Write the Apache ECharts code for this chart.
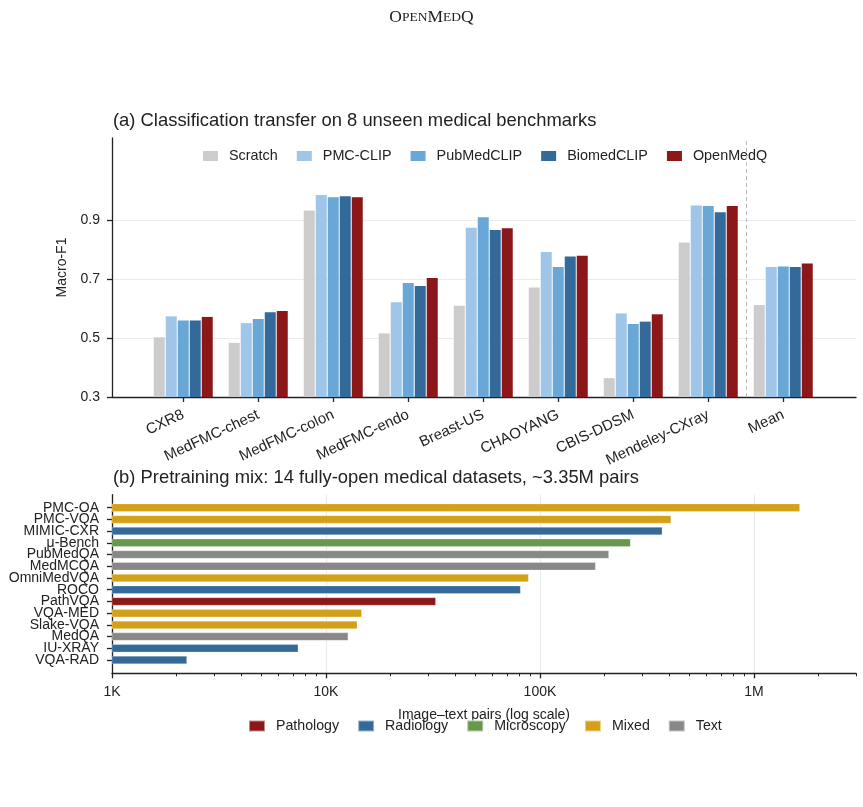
<!DOCTYPE html>
<html>
<head>
<meta charset="utf-8">
<title>OpenMedQ</title>
<script src="https://cdn.jsdelivr.net/npm/echarts@6/dist/echarts.min.js"></script>
<style>
  html, body { margin: 0; padding: 0; background: #fff; }
  #chart { width: 863px; height: 807px; }
</style>
</head>
<body>
<div id="chart"></div>
<script>
// (a) classification transfer, macro-F1
const benchmarks = ['CXR8', 'MedFMC-chest', 'MedFMC-colon', 'MedFMC-endo', 'Breast-US', 'CHAOYANG', 'CBIS-DDSM', 'Mendeley-CXray', 'Mean'];
const models = ['Scratch', 'PMC-CLIP', 'PubMedCLIP', 'BiomedCLIP', 'OpenMedQ'];
const scratch = [0.503, 0.484, 0.934, 0.516, 0.610, 0.672, 0.364, 0.825, 0.613];
const pmcClip = [0.574, 0.551, 0.986, 0.622, 0.875, 0.793, 0.584, 0.951, 0.742];
const pubmedClip = [0.560, 0.565, 0.979, 0.687, 0.911, 0.742, 0.548, 0.949, 0.743];
const biomedClip = [0.560, 0.588, 0.982, 0.677, 0.867, 0.777, 0.556, 0.928, 0.742];
const openMedQ = [0.572, 0.592, 0.979, 0.704, 0.873, 0.780, 0.581, 0.949, 0.754];
const yTicks = [0.3, 0.5, 0.7, 0.9];

// (b) pretraining mix
const datasets = ['PMC-OA', 'PMC-VQA', 'MIMIC-CXR', 'μ-Bench', 'PubMedQA', 'MedMCQA', 'OmniMedVQA', 'ROCO', 'PathVQA', 'VQA-MED', 'Slake-VQA', 'MedQA', 'IU-XRAY', 'VQA-RAD'];
const pairs = [1640000, 410000, 373000, 265000, 210000, 182000, 88500, 81200, 32600, 14700, 14000, 12700, 7420, 2240];
const datasetDomain = ['Mixed', 'Mixed', 'Radiology', 'Microscopy', 'Text', 'Text', 'Mixed', 'Radiology', 'Pathology', 'Mixed', 'Mixed', 'Text', 'Radiology', 'Radiology'];
const domains = ['Pathology', 'Radiology', 'Microscopy', 'Mixed', 'Text'];

const modelColors = ['#cccccc', '#9fc5e8', '#69a8d6', '#336a9a', '#8b1719'];
const domainColors = { Pathology: '#8b1719', Radiology: '#336a9a', Microscopy: '#67984c', Mixed: '#d4a017', Text: '#888888' };

const FONT = 'Liberation Sans';
const INK = '#222';
const X_MIN = 1000;
const X_MAX = 3000000;

const chart = echarts.init(document.getElementById('chart'), null, { renderer: 'canvas' });

// the middle series sits on the category centre, so the separator is hung on it
const modelSeries = [scratch, pmcClip, pubmedClip, biomedClip, openMedQ].map((vals, k) => ({
  name: models[k],
  type: 'bar',
  xAxisIndex: 0,
  yAxisIndex: 0,
  barWidth: 11,
  barGap: '9.1%',
  itemStyle: { color: modelColors[k] },
  data: vals.map((v, i) => [i, v]),
  markLine: k === 2 ? {
    silent: true,
    symbol: 'none',
    label: { show: false },
    lineStyle: { color: '#bbbbbb', type: [4, 3], width: 1 },
    data: [{ xAxis: benchmarks.length - 1.5 }]
  } : undefined
}));

const domainSeries = domains.map(d => ({
  name: d,
  type: 'bar',
  xAxisIndex: 1,
  yAxisIndex: 1,
  barWidth: 8,
  barGap: '-100%',
  itemStyle: { color: domainColors[d], borderColor: 'rgba(255,255,255,0.5)', borderWidth: 0.5 },
  data: pairs.map((v, i) => (datasetDomain[i] === d ? v : '-'))
}));

// minor ticks of the log axis, as log10 positions
const minorTicks = [];
for (let e = 3; e <= 6; e++) {
  for (let m = 2; m <= 9; m++) {
    const v = m * Math.pow(10, e);
    if (v <= X_MAX) minorTicks.push(Math.log10(v));
  }
}

const fmtPairs = v => (v >= 1e6 ? v / 1e6 + 'M' : v / 1e3 + 'K');

const option = {
  backgroundColor: '#fff',
  animation: false,
  textStyle: { fontFamily: FONT, color: INK },
  title: [
    {
      text: '{b|O}{s|PEN}{b|M}{s|ED}{b|Q}',
      left: 'center',
      top: 8,
      padding: 0,
      textStyle: {
        fontWeight: 'normal',
        rich: {
          b: { fontFamily: 'Liberation Serif', fontSize: 17.5, fontWeight: 'normal', color: '#222' },
          s: { fontFamily: 'Liberation Serif', fontSize: 13.5, fontWeight: 'normal', color: '#222' }
        }
      }
    },
    {
      text: '(a) Classification transfer on 8 unseen medical benchmarks',
      left: 113,
      top: 112,
      padding: 0,
      textStyle: { fontFamily: FONT, fontSize: 18.4, fontWeight: 'normal', color: INK }
    },
    {
      text: '(b) Pretraining mix: 14 fully-open medical datasets, ~3.35M pairs',
      left: 113,
      top: 469,
      padding: 0,
      textStyle: { fontFamily: FONT, fontSize: 18.4, fontWeight: 'normal', color: INK }
    }
  ],
  legend: [
    {
      data: models,
      left: 203,
      top: 149,
      padding: 0,
      icon: 'rect',
      itemWidth: 15,
      itemHeight: 10,
      itemGap: 19,
      textStyle: { fontFamily: FONT, fontSize: 14.4, color: INK, padding: [0, 0, 0, 6] }
    },
    {
      data: domains,
      left: 248,
      top: 719,
      padding: 0,
      icon: 'rect',
      itemWidth: 16,
      itemHeight: 11,
      itemGap: 18,
      textStyle: { fontFamily: FONT, fontSize: 14.2, color: INK, padding: [0, 0, 0, 6] }
    }
  ],
  grid: [
    { left: 112, right: 7, top: 138, bottom: 410 },
    { left: 112, right: 7, top: 501.8, bottom: 141.1 },
    { left: 112, right: 7, top: 494.7, bottom: 133.7 }
  ],
  xAxis: [
    {
      gridIndex: 0,
      type: 'value',
      min: -0.95,
      max: 8.97,
      axisLine: { onZero: false, lineStyle: { color: INK, width: 1.3 } },
      axisTick: { customValues: benchmarks.map((c, i) => i), length: 5, lineStyle: { color: INK, width: 1.3 } },
      axisLabel: {
        customValues: benchmarks.map((c, i) => i),
        formatter: v => benchmarks[Math.round(v)],
        rotate: 25,
        margin: 17,
        fontFamily: FONT,
        fontSize: 15,
        color: INK
      },
      splitLine: { show: false }
    },
    {
      gridIndex: 1,
      type: 'log',
      logBase: 10,
      min: X_MIN,
      max: X_MAX,
      show: false
    },
    {
      gridIndex: 2,
      type: 'log',
      logBase: 10,
      position: 'bottom',
      min: X_MIN,
      max: X_MAX,
      axisLine: { onZero: false, lineStyle: { color: INK, width: 1.3 } },
      axisTick: { length: 5, lineStyle: { color: INK, width: 1.3 } },
      axisLabel: { formatter: fmtPairs, showMaxLabel: false, margin: 12, fontFamily: FONT, fontSize: 14, color: INK },
      splitLine: { show: true, showMinLine: false, showMaxLine: false, lineStyle: { color: '#ebebeb', width: 1.2 } },
      name: 'Image–text pairs (log scale)',
      nameLocation: 'middle',
      nameGap: 35,
      nameTextStyle: { fontFamily: FONT, fontSize: 14, color: INK }
    },
    {
      gridIndex: 2,
      type: 'value',
      position: 'bottom',
      min: 3,
      max: Math.log10(X_MAX),
      axisLine: { show: false, onZero: false },
      axisTick: { customValues: minorTicks, length: 3, lineStyle: { color: INK, width: 1 } },
      axisLabel: { show: false },
      splitLine: { show: false }
    }
  ],
  yAxis: [
    {
      gridIndex: 0,
      type: 'value',
      min: 0.3,
      max: 1.18,
      name: 'Macro-F1',
      nameLocation: 'middle',
      nameRotate: 90,
      nameGap: 43,
      nameTextStyle: { fontFamily: FONT, fontSize: 14, color: INK },
      axisLine: { show: true, onZero: false, lineStyle: { color: INK, width: 1.3 } },
      axisTick: { show: true, customValues: yTicks, length: 5, lineStyle: { color: INK, width: 1.3 } },
      axisLabel: { customValues: yTicks, formatter: v => v.toFixed(1), margin: 12, fontFamily: FONT, fontSize: 14, color: INK },
      splitLine: { show: true, lineStyle: { color: '#ebebeb', width: 1.2 } }
    },
    {
      gridIndex: 1,
      type: 'category',
      inverse: true,
      data: datasets,
      axisLine: { show: false },
      axisTick: { show: true, alignWithLabel: true, length: 5, lineStyle: { color: INK, width: 1.3 } },
      axisLabel: { margin: 13, fontFamily: FONT, fontSize: 14, color: INK, interval: 0 },
      splitLine: { show: false }
    },
    {
      gridIndex: 2,
      type: 'value',
      axisLine: { show: true, onZero: false, lineStyle: { color: INK, width: 1.3 } },
      axisTick: { show: false },
      axisLabel: { show: false },
      splitLine: { show: false }
    }
  ],
  series: modelSeries.concat(domainSeries)
};

chart.setOption(option);
</script>
</body>
</html>
